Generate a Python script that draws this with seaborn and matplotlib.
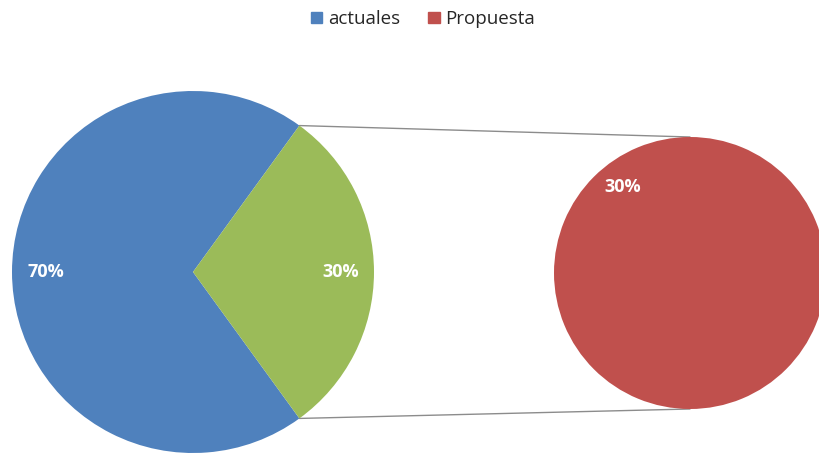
import numpy as np
import matplotlib
matplotlib.use("Agg")
import matplotlib.pyplot as plt
from matplotlib.patches import Patch
import seaborn as sns

# Data
legend_labels = ['actuales', 'Propuesta']
main_values = [70, 30]          # actuales / rest (green)
secondary_values = [30]         # Propuesta
main_colors = ['#4F81BD', '#9BBB59']
secondary_color = '#C0504D'

sns.set_theme(style='white')
plt.rcParams['font.family'] = ['Open Sans', 'DejaVu Sans']

fig = plt.figure(figsize=(8.2, 4.53), dpi=100)
ax = fig.add_axes([0, 0, 1, 1])

# Main pie (left)
c1, r1 = (193, 181), 181
wedges1, _, pct1 = ax.pie(main_values, colors=main_colors, startangle=54,
                          center=c1, radius=r1, autopct='%1.0f%%', pctdistance=0.815,
                          wedgeprops=dict(edgecolor='none'), frame=True)

# Secondary pie (right)
c2, r2 = (690, 180), 136
wedges2, _, pct2 = ax.pie(secondary_values, colors=[secondary_color], startangle=-52,
                          center=c2, radius=r2,
                          autopct=lambda p: f'{secondary_values[0]}%', pctdistance=0.8,
                          wedgeprops=dict(edgecolor='none'), frame=True)

for t in pct1 + pct2:
    t.set_color('white')
    t.set_fontweight('bold')
    t.set_fontsize(13)

ax.set_xlim(0, 820)
ax.set_ylim(0, 453)
ax.set_aspect('equal')
ax.axis('off')

# Connector lines from the green slice to the secondary pie
green = wedges1[1]
for ang, yy in [(green.theta2, c2[1] + r2), (green.theta1, c2[1] - r2)]:
    x0 = c1[0] + r1 * np.cos(np.radians(ang))
    y0 = c1[1] + r1 * np.sin(np.radians(ang))
    ax.plot([x0, c2[0]], [y0, yy], color='#8C8C8C', lw=1, zorder=0)

handles = [Patch(color=main_colors[0]), Patch(color=secondary_color)]
fig.legend(handles, legend_labels, loc='upper center', bbox_to_anchor=(0.516, 1.015),
           ncol=2, frameon=False, fontsize=13.5, handlelength=0.6, handleheight=0.6,
           handletextpad=0.3, columnspacing=1.5)

fig.savefig('out.png', dpi=100)
